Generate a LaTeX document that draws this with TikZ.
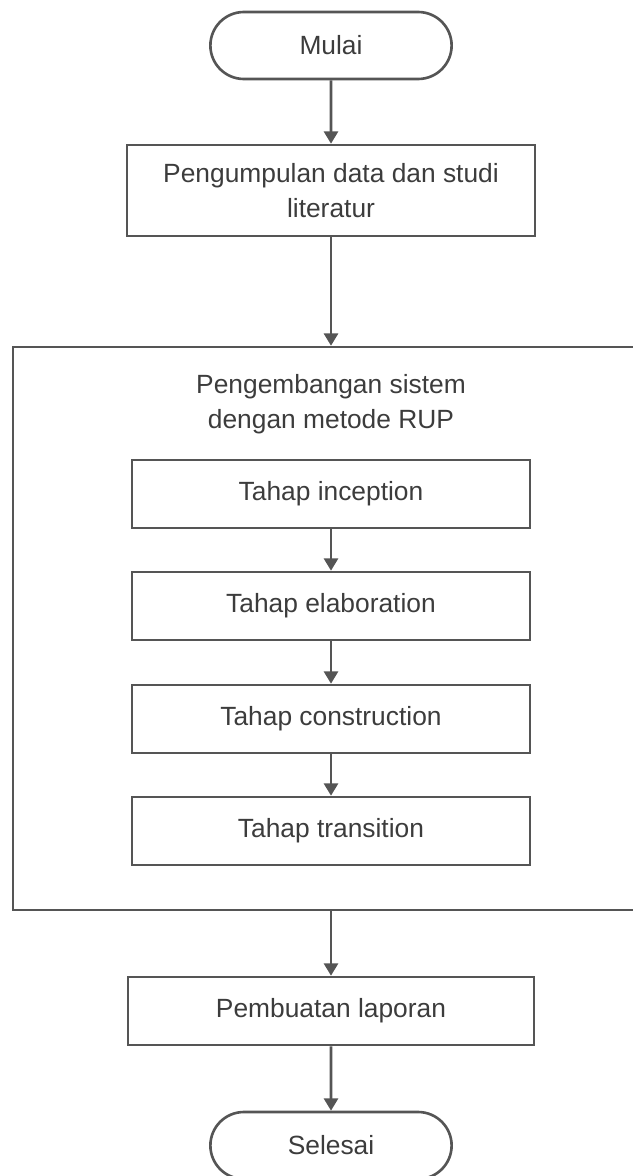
\documentclass[tikz,border=0pt]{standalone}
\usepackage{fontspec}
\setmainfont{Liberation Sans}
\usetikzlibrary{positioning,calc,arrows.meta,shapes.misc}
\definecolor{linegray}{RGB}{85,85,85}
\definecolor{textgray}{RGB}{60,60,60}

\begin{document}
\begin{tikzpicture}[x=0.02cm, y=-0.02cm,
  font=\fontsize{15}{20}\selectfont, text=textgray,
  terminal/.style={draw=linegray, line width=1.5pt, rounded rectangle,
    minimum width=5.06cm, minimum height=1.34cm},
  process/.style={draw=linegray, line width=1.5pt, align=center,
    minimum width=7.96cm, minimum height=1.36cm},
  flow/.style={draw=linegray, line width=1.5pt, -{Triangle[width=8pt,length=7pt]}}]
  \useasboundingbox (0,0) rectangle (632,1176);
  \node[terminal] (mulai) at (331,45.5) {Mulai};
  \node[process, minimum width=8.16cm, minimum height=1.82cm] (data) at (331,190.5)
    {Pengumpulan data dan studi\\literatur};
  % RUP container
  \node[draw=linegray, line width=1.5pt, minimum width=12.72cm, minimum height=11.26cm] (rup) at (331,628.5) {};
  \node[align=center] (ruptitle) at (331,404) {Pengembangan sistem\\dengan metode RUP};
  \node[process] (inception) at (331,494) {Tahap inception};
  \node[process] (elaboration) at (331,606) {Tahap elaboration};
  \node[process] (construction) at (331,719) {Tahap construction};
  \node[process] (transition) at (331,831) {Tahap transition};
  \node[process, minimum width=8.12cm] (laporan) at (331,1011) {Pembuatan laporan};
  \node[terminal] (selesai) at (331,1145.5) {Selesai};
  % connectors
  \draw[flow] (mulai) -- (data);
  \draw[flow] (data) -- (rup.north);
  \draw[flow] (inception) -- (elaboration);
  \draw[flow] (elaboration) -- (construction);
  \draw[flow] (construction) -- (transition);
  \draw[flow] (rup.south) -- (laporan);
  \draw[flow] (laporan) -- (selesai);
\end{tikzpicture}
\end{document}
